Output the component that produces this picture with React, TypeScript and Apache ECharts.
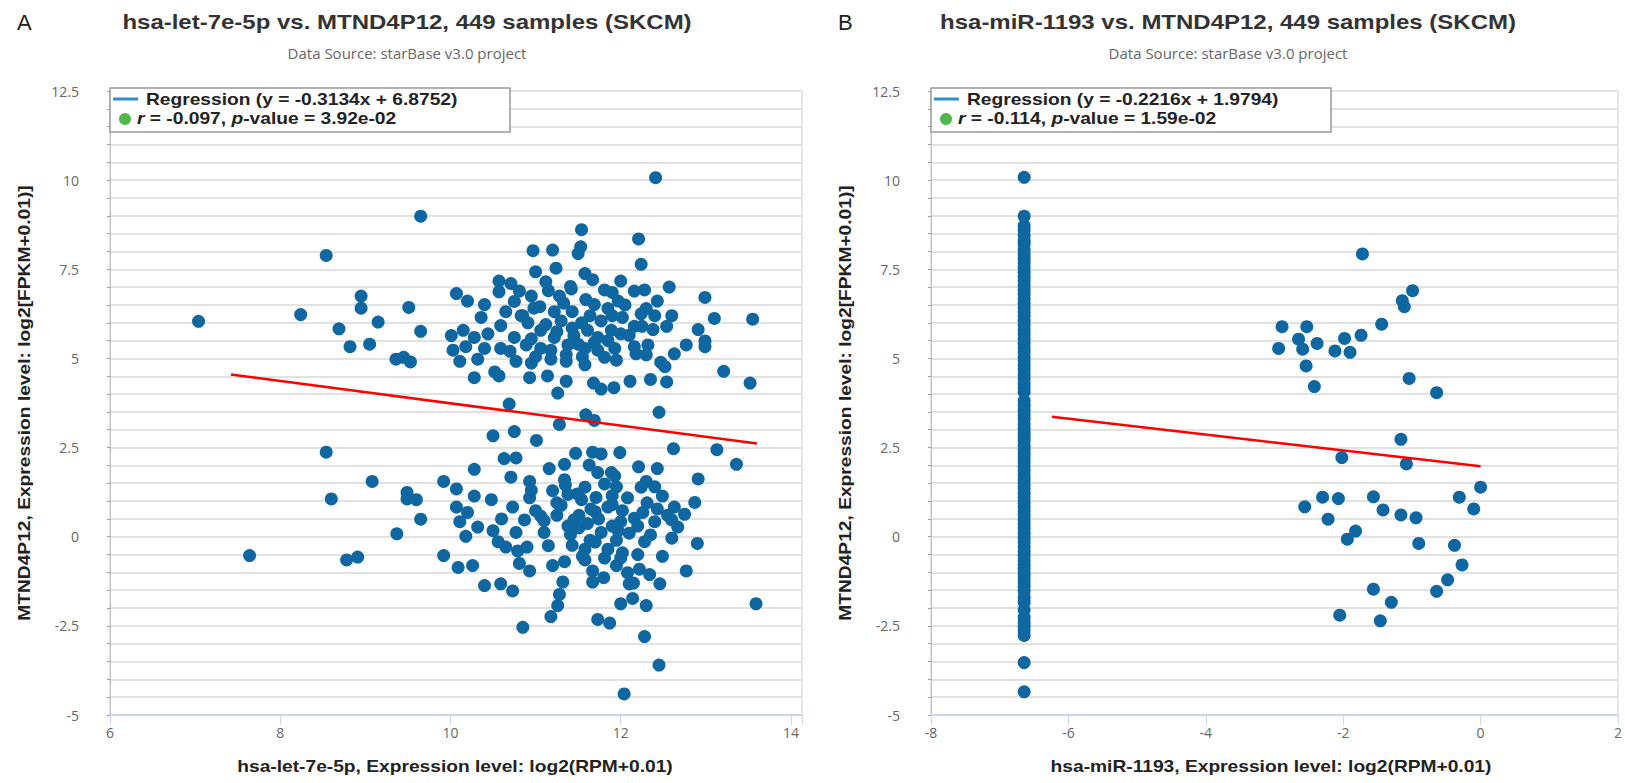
import React, { useEffect, useRef } from "react";
import * as echarts from "echarts";

// ---------- Panel A data (hsa-let-7e-5p vs MTND4P12) ----------
const panelAUpper: number[][] = [
  [9.65, 8.99], [8.54, 7.89], [7.04, 6.04], [8.24, 6.23], [8.95, 6.75], [8.95, 6.41], [9.51, 6.43], [8.69, 5.83],
  [9.15, 6.02], [8.82, 5.33], [9.05, 5.4], [9.65, 5.76], [9.36, 4.98], [9.45, 5.03], [9.53, 4.9],
  [12.41, 10.07], [11.54, 8.61], [12.21, 8.35], [10.97, 8.02], [11.2, 8.04], [11.53, 8.13], [11.5, 7.94], [12.24, 7.64],
  [11.24, 7.53], [11.0, 7.43], [10.57, 7.17], [10.71, 7.1], [11.12, 7.15], [11.58, 7.38], [11.67, 7.21], [12.0, 7.17],
  [11.41, 7.02], [12.57, 7.0], [10.07, 6.82], [10.57, 6.87], [10.81, 6.89], [11.81, 6.92], [12.16, 6.89], [12.28, 6.92],
  [12.99, 6.71], [10.2, 6.61], [10.4, 6.51], [10.98, 6.41], [11.22, 6.31], [11.43, 6.31], [11.69, 6.51], [11.97, 6.61],
  [12.43, 6.61], [10.65, 6.31], [10.83, 6.2], [10.36, 6.15], [11.3, 6.05], [11.54, 6.0], [11.77, 6.05], [12.02, 6.15],
  [12.24, 6.25], [12.4, 6.2], [12.6, 6.2], [13.1, 6.12], [13.55, 6.1], [10.59, 5.92], [10.91, 6.0], [11.06, 5.79],
  [11.61, 5.79], [11.89, 5.79], [12.16, 5.9], [12.38, 5.81], [12.54, 5.9], [12.91, 5.81], [10.01, 5.64], [10.15, 5.79],
  [10.28, 5.59], [10.44, 5.69], [10.75, 5.59], [11.22, 5.59], [11.45, 5.64], [11.73, 5.59], [12.0, 5.69], [12.99, 5.49],
  [12.77, 5.38], [10.03, 5.23], [10.18, 5.33], [10.4, 5.28], [10.59, 5.28], [10.89, 5.38], [11.06, 5.28], [11.18, 5.23],
  [11.38, 5.38], [11.58, 5.28], [11.73, 5.23], [11.93, 5.28], [12.16, 5.33], [12.32, 5.38], [12.99, 5.33], [10.11, 4.92],
  [10.32, 4.98], [10.77, 4.92], [10.95, 4.87], [11.18, 4.98], [11.36, 4.92], [11.58, 4.82], [11.81, 5.03], [12.18, 5.13],
  [12.47, 4.89], [12.63, 5.13], [12.52, 4.77], [10.28, 4.46], [10.52, 4.62], [10.57, 4.51], [10.93, 4.46], [11.14, 4.51],
  [11.36, 4.36], [13.21, 4.64], [13.52, 4.31], [11.68, 4.31], [11.77, 4.14], [11.92, 4.18], [12.11, 4.36], [12.35, 4.41],
  [12.54, 4.34], [11.26, 4.03], [10.69, 3.72], [11.59, 3.42], [11.69, 3.26], [11.28, 3.15], [12.45, 3.49],
  [11.33, 6.55], [11.59, 6.65], [11.43, 5.85], [11.64, 6.2], [11.85, 6.4], [11.36, 5.1], [11.12, 5.95], [11.69, 5.45],
  [11.28, 6.75], [11.9, 6.2],
  [10.75, 6.6], [10.95, 6.75], [11.05, 6.45], [11.15, 6.9], [11.42, 6.95], [11.9, 6.85], [12.05, 6.5], [12.3, 6.4],
  [10.95, 5.55], [11.25, 5.75], [11.5, 5.4], [11.85, 5.5], [12.1, 5.65], [12.3, 5.1], [10.7, 5.2], [11.0, 5.05],
  [11.55, 5.05], [11.95, 4.95], [12.25, 5.9], [10.85, 6.2],
];

const panelALower: number[][] = [
  [8.54, 2.37], [9.08, 1.55], [8.6, 1.06], [9.49, 1.24], [9.49, 1.06], [9.6, 1.04], [9.65, 0.49], [9.37, 0.08],
  [7.64, -0.53], [8.78, -0.65], [8.91, -0.57],
  [10.5, 2.83], [10.75, 2.95], [11.01, 2.7], [12.62, 2.47], [13.13, 2.44], [13.36, 2.03], [10.63, 2.19], [10.77, 2.21],
  [11.47, 2.34], [11.67, 2.37], [11.77, 2.32], [11.99, 2.36], [10.28, 1.89], [11.16, 1.91], [11.34, 2.03], [11.63, 2.01],
  [11.73, 1.8], [11.89, 1.8], [12.21, 1.96], [12.43, 1.91], [9.92, 1.55], [10.71, 1.67], [10.93, 1.55], [11.34, 1.6],
  [11.58, 1.39], [11.81, 1.48], [11.93, 1.7], [12.3, 1.55], [12.91, 1.62], [10.07, 1.34], [10.28, 1.14], [10.48, 1.04],
  [10.93, 1.09], [11.2, 1.29], [11.38, 1.19], [11.54, 1.04], [12.08, 1.09], [12.24, 1.39], [12.49, 1.14], [12.87, 0.96],
  [10.07, 0.83], [10.2, 0.68], [10.73, 0.83], [11.0, 0.73], [11.3, 0.88], [11.65, 0.78], [11.85, 0.83], [12.02, 0.73],
  [12.26, 0.68], [12.43, 0.78], [12.63, 0.83], [12.75, 0.63], [10.11, 0.42], [10.32, 0.27], [10.87, 0.47], [11.06, 0.58],
  [11.45, 0.47], [11.61, 0.37], [12.0, 0.42], [12.16, 0.52], [12.4, 0.42], [12.6, 0.47], [12.67, 0.27], [10.5, 0.17],
  [10.77, 0.12], [11.1, 0.12], [11.41, 0.06], [11.77, 0.12], [11.97, 0.17], [12.28, -0.14], [12.6, -0.04], [12.9, -0.19],
  [10.18, 0.01], [10.56, -0.14], [10.65, -0.29], [10.79, -0.4], [10.9, -0.29], [11.43, -0.24], [11.58, -0.35], [11.85, -0.35],
  [12.02, -0.45], [9.92, -0.53], [10.09, -0.86], [10.26, -0.81], [10.4, -1.37], [10.81, -0.75], [10.93, -0.96], [11.2, -0.81],
  [11.34, -0.7], [11.58, -0.65], [11.67, -0.96], [11.81, -0.6], [11.95, -0.81], [12.08, -1.01], [12.22, -0.91], [12.34, -1.06],
  [12.49, -0.55], [12.77, -0.96], [10.59, -1.32], [10.73, -1.52], [11.32, -1.27], [11.67, -1.27], [12.1, -1.32], [12.46, -1.32],
  [11.28, -1.62], [11.26, -1.93], [11.18, -2.24], [12.0, -1.88], [12.14, -1.73], [12.3, -1.93], [13.59, -1.88], [11.73, -2.32],
  [11.87, -2.42], [10.85, -2.54], [12.28, -2.8], [12.45, -3.6], [12.04, -4.41],
  [11.49, 1.2], [11.71, 1.1], [11.9, 1.15], [11.51, 0.6], [11.74, 0.5], [11.9, 0.3], [11.51, 0.25], [11.64, -0.1],
  [11.95, -0.1], [12.1, 0.1], [11.38, 0.3], [12.31, 0.95],
  [11.1, 0.45], [11.25, 0.6], [11.7, 0.7], [11.9, 0.9], [12.2, 0.3], [12.35, 0.05], [11.15, -0.25], [11.7, -0.15],
  [12.0, -0.6], [12.2, -0.5], [11.35, 1.45], [11.95, 1.4], [12.4, 1.4], [10.95, 1.3], [11.55, -0.55], [12.15, -1.3],
  [11.8, -1.15], [12.55, 0.6], [11.25, 0.95], [10.6, 0.5],
];

const panelARegression: number[][] = [[7.42, 4.55], [13.6, 2.613]];

// ---------- Panel B data (hsa-miR-1193 vs MTND4P12) ----------
const panelBColumnX = -6.644;
const panelBColumnY: number[] = [
  10.08, 8.99, 8.72, 8.6, 8.45, 8.3, 8.2, 8.05, 7.92, 7.8, 7.68, 7.55, 7.42, 7.3, 7.18, 7.05, 6.92, 6.8, 6.67, 6.55,
  6.42, 6.3, 6.18, 6.05, 5.93, 5.8, 5.68, 5.55, 5.43, 5.3, 5.18, 5.05, 4.93, 4.8, 4.68, 4.55, 4.43, 4.3, 4.18, 4.06,
  3.81, 3.68, 3.55, 3.42, 3.3, 3.15, 3.02, 2.9, 2.78, 2.69, 2.56, 2.45, 2.33, 2.22, 2.1, 1.97, 1.85, 1.72, 1.6, 1.47,
  1.35, 1.22, 1.1, 0.97, 0.85, 0.72, 0.6, 0.47, 0.35, 0.22, 0.1, -0.03, -0.15, -0.28, -0.4, -0.53, -0.65, -0.78, -0.9,
  -1.03, -1.15, -1.28, -1.39, -1.52, -1.7, -1.84, -2.05, -2.26, -2.4, -2.51, -2.64, -2.77, -3.53, -4.35,
];
const panelBCluster: number[][] = [
  [-1.72, 7.93], [-0.99, 6.9], [-1.14, 6.62], [-1.11, 6.45], [-1.44, 5.96], [-2.89, 5.89], [-2.53, 5.89], [-2.65, 5.54],
  [-2.38, 5.42], [-2.94, 5.28], [-2.59, 5.26], [-1.98, 5.56], [-1.74, 5.65], [-2.12, 5.21], [-1.9, 5.17], [-2.54, 4.79],
  [-2.42, 4.21], [-1.04, 4.44], [-0.64, 4.04], [-1.16, 2.73], [-2.02, 2.22], [-1.08, 2.04], [0.0, 1.39], [-0.31, 1.11],
  [-0.1, 0.78], [-2.3, 1.11], [-2.07, 1.07], [-1.56, 1.12], [-2.56, 0.84], [-1.42, 0.75], [-1.16, 0.61], [-0.94, 0.53],
  [-2.22, 0.49], [-1.82, 0.16], [-1.94, -0.07], [-0.9, -0.19], [-0.38, -0.24], [-0.27, -0.79], [-0.48, -1.21], [-0.64, -1.53],
  [-1.56, -1.47], [-1.3, -1.84], [-2.05, -2.2], [-1.46, -2.36],
];
const panelBRegression: number[][] = [[-6.24, 3.362], [0.0, 1.979]];

// ---------- Texts and axis ranges ----------
const titles = [
  "hsa-let-7e-5p vs. MTND4P12, 449 samples (SKCM)",
  "hsa-miR-1193 vs. MTND4P12, 449 samples (SKCM)",
];
const subtitle = "Data Source: starBase v3.0 project";
const panelLetters = ["A", "B"];
const xNames = [
  "hsa-let-7e-5p, Expression level: log2(RPM+0.01)",
  "hsa-miR-1193, Expression level: log2(RPM+0.01)",
];
const yName = "MTND4P12, Expression level: log2[FPKM+0.01)]";
const regressionLabels = [
  "Regression (y = -0.3134x + 6.8752)",
  "Regression (y = -0.2216x + 1.9794)",
];
const statsLabels = [
  "{i|r} = -0.097, {i|p}-value = 3.92e-02",
  "{i|r} = -0.114, {i|p}-value = 1.59e-02",
];
const xRanges = [[6, 14.13], [-8, 2]];
const xTickStep = 2;
const yRange = [-5, 12.5];
const yLabelStep = 2.5;

const DOT = "#0e67a0";
const GRIDLINE = "#e2e2e2";
const LABEL_FONT = '"Open Sans", sans-serif';
const BOLD_FONT = '"Liberation Sans", Arial, sans-serif';

const GRID_LEFT = [110, 931];
const GRID_WIDTH = [692, 692];
const GRID_TOP = 91;
const GRID_H = 624;

function makeXAxis(i: number) {
  return {
    type: "value",
    gridIndex: i,
    min: xRanges[i][0],
    max: xRanges[i][1],
    interval: xTickStep,
    axisLine: { show: true, onZero: false, lineStyle: { color: "#ccd6eb", width: 2 } },
    axisTick: { show: true, length: 10, lineStyle: { color: "#ccd6eb", width: 1 } },
    axisLabel: {
      color: "#666666",
      fontSize: 14,
      fontFamily: LABEL_FONT,
      margin: 10,
      formatter: (v: number) => (Math.abs(v / xTickStep - Math.round(v / xTickStep)) < 1e-6 ? String(v) : ""),
    },
    splitLine: { show: false },
  };
}

function makeYAxis(i: number) {
  return {
    type: "value",
    gridIndex: i,
    min: yRange[0],
    max: yRange[1],
    interval: yLabelStep,
    axisLine: { show: true, onZero: false, lineStyle: { color: "#c0c0c0", width: 1 } },
    axisTick: { show: true, length: 3, lineStyle: { color: "#a0a0a0" } },
    minorTick: { show: true, splitNumber: 5, length: 3, lineStyle: { color: "#a0a0a0" } },
    splitLine: { show: true, lineStyle: { color: GRIDLINE, width: 2 } },
    minorSplitLine: { show: true, lineStyle: { color: GRIDLINE, width: 2 } },
    axisLabel: { color: "#666666", fontSize: 14, fontFamily: LABEL_FONT, margin: 31 },
  };
}

function panelGraphics(i: number) {
  const off = GRID_LEFT[i] - GRID_LEFT[0];
  return [
    {
      type: "text",
      x: 17 + off,
      y: 22,
      style: { text: panelLetters[i], fontSize: 22, fontFamily: BOLD_FONT, fill: "#222222", align: "left", verticalAlign: "middle" },
    },
    {
      type: "text",
      x: 407 + off,
      y: 22,
      scaleX: 1.2,
      style: { text: titles[i], fontSize: 20, fontWeight: "bold", fontFamily: BOLD_FONT, fill: "#333333", align: "center", verticalAlign: "middle" },
    },
    {
      type: "text",
      x: 407 + off,
      y: 53,
      style: { text: subtitle, fontSize: 15, fontFamily: LABEL_FONT, fill: "#666666", align: "center", verticalAlign: "middle" },
    },
    {
      type: "text",
      x: 25 + off,
      y: GRID_TOP + GRID_H / 2,
      rotation: Math.PI / 2,
      scaleX: 1.2,
      style: { text: yName, fontSize: 16, fontWeight: "bold", fontFamily: BOLD_FONT, fill: "#222222", align: "center", verticalAlign: "middle" },
    },
    {
      type: "text",
      x: (i === 0 ? 455 : 1271),
      y: 767,
      scaleX: 1.2,
      style: { text: xNames[i], fontSize: 16, fontWeight: "bold", fontFamily: BOLD_FONT, fill: "#222222", align: "center", verticalAlign: "middle" },
    },
    {
      type: "rect",
      shape: { x: 110 + off, y: 88, width: 400, height: 44 },
      style: { fill: "#ffffff", stroke: "#999999", lineWidth: 1.5 },
      z: 10,
    },
    {
      type: "line",
      shape: { x1: 113 + off, y1: 99, x2: 138 + off, y2: 99 },
      style: { stroke: "#2c8fd6", lineWidth: 3 },
      z: 11,
    },
    {
      type: "text",
      x: 146 + off,
      y: 100,
      scaleX: 1.2,
      z: 11,
      style: { text: regressionLabels[i], fontSize: 16, fontWeight: "bold", fontFamily: BOLD_FONT, fill: "#222222", align: "left", verticalAlign: "middle" },
    },
    {
      type: "circle",
      shape: { cx: 125 + off, cy: 119, r: 6 },
      style: { fill: "#4db848" },
      z: 11,
    },
    {
      type: "text",
      x: 137 + off,
      y: 119,
      scaleX: 1.2,
      z: 11,
      style: {
        text: statsLabels[i],
        fontSize: 16,
        fontWeight: "bold",
        fontFamily: BOLD_FONT,
        fill: "#222222",
        align: "left",
        verticalAlign: "middle",
        rich: { i: { fontStyle: "italic", fontSize: 16, fontWeight: "bold", fontFamily: BOLD_FONT, fill: "#222222" } },
      },
    },
  ];
}

export default function App() {
  const ref = useRef<HTMLDivElement>(null);

  useEffect(() => {
    if (!ref.current) return;
    const chart = echarts.init(ref.current, undefined, { renderer: "svg" });
    const columnB = panelBColumnY.map((y) => [panelBColumnX, y]);

    const option: any = {
      animation: false,
      backgroundColor: "#ffffff",
      grid: [0, 1].map((i) => ({
        left: GRID_LEFT[i],
        top: GRID_TOP,
        width: GRID_WIDTH[i],
        height: GRID_H,
        show: true,
        borderColor: "#cccccc",
        borderWidth: 1,
        containLabel: false,
      })),
      xAxis: [makeXAxis(0), makeXAxis(1)],
      yAxis: [makeYAxis(0), makeYAxis(1)],
      series: [
        {
          type: "scatter",
          xAxisIndex: 0,
          yAxisIndex: 0,
          data: [...panelAUpper, ...panelALower],
          symbolSize: 13,
          itemStyle: { color: DOT, opacity: 1 },
          z: 2,
        },
        {
          type: "line",
          xAxisIndex: 0,
          yAxisIndex: 0,
          data: panelARegression,
          symbol: "none",
          lineStyle: { color: "#ff0000", width: 2.5 },
          z: 3,
        },
        {
          type: "scatter",
          xAxisIndex: 1,
          yAxisIndex: 1,
          data: [...columnB, ...panelBCluster],
          symbolSize: 13,
          itemStyle: { color: DOT, opacity: 1 },
          z: 2,
        },
        {
          type: "line",
          xAxisIndex: 1,
          yAxisIndex: 1,
          data: panelBRegression,
          symbol: "none",
          lineStyle: { color: "#ff0000", width: 2.5 },
          z: 3,
        },
      ],
      graphic: [...panelGraphics(0), ...panelGraphics(1)],
    };

    chart.setOption(option);
    return () => chart.dispose();
  }, []);

  return (
    <div
      ref={ref}
      style={{ position: "absolute", left: 0, top: 0, width: 1625, height: 783 }}
    />
  );
}
